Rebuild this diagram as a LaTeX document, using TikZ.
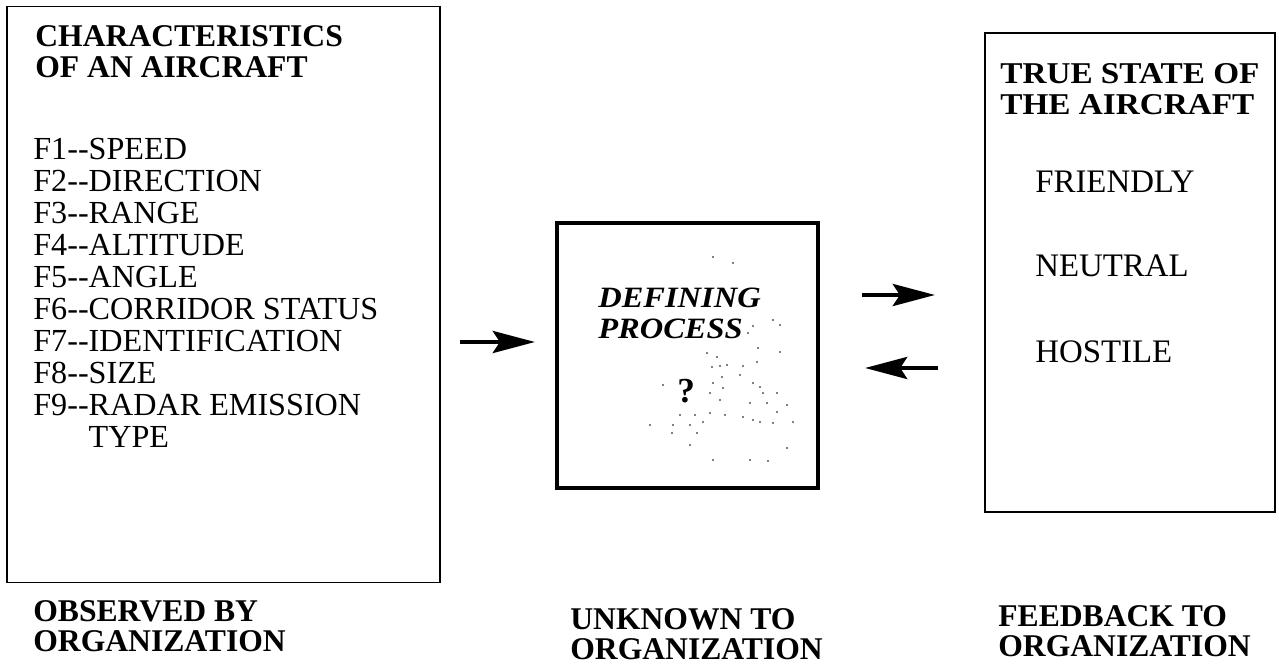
\documentclass[tikz,border=0pt]{standalone}
\usepackage{fontspec}
\setmainfont{Liberation Serif}
\usetikzlibrary{arrows.meta}

\begin{document}
\begin{tikzpicture}[x=0.02cm,y=-0.02cm,
    panel/.style={draw,line width=1.1pt,inner sep=0pt},
    item/.style={anchor=base west,inner sep=0pt,text depth=0pt,font=\fontsize{18.3}{20}\selectfont},
    head/.style={anchor=base west,inner sep=0pt,text depth=0pt,font=\fontsize{18}{20}\selectfont\bfseries},
    tight/.style={head,font=\fontsize{#1}{20}\selectfont\bfseries\addfontfeatures{FakeStretch=1.1}},
    tightit/.style={head,font=\fontsize{#1}{20}\selectfont\bfseries\itshape\addfontfeatures{FakeStretch=1.1}},
    flow/.style={line width=2.6pt,-{Stealth[length=24pt,width=12.5pt,inset=4pt]}}]
    \useasboundingbox (0,0) rectangle (1279,668);
    % the three boxes
    \node[panel,minimum width=433*0.02cm,minimum height=576*0.02cm] (obs) at (223.5,294.5) {};
    \node[panel,line width=2.8pt,minimum width=261*0.02cm,minimum height=265*0.02cm] (proc) at (687.5,355.5) {};
    \node[panel,minimum width=290*0.02cm,minimum height=479*0.02cm] (truth) at (1130,272.5) {};
    % left box
    \node[head] (obs1) at (35,47) {CHARACTERISTICS};
    \node[head] (obs2) at (35,78) {OF AN AIRCRAFT};
    \foreach \txt [count=\i from 0] in {F1-{}-SPEED,F2-{}-DIRECTION,F3-{}-RANGE,F4-{}-ALTITUDE,
        F5-{}-ANGLE,F6-{}-CORRIDOR STATUS,F7-{}-IDENTIFICATION,F8-{}-SIZE,
        F9-{}-RADAR EMISSION,\phantom{F9-{}-}TYPE}
        \node[item] (f\i) at (33,160+32*\i) {\txt};
    % middle box
    \node[tightit=16.8] (def1) at (598,308) {DEFINING};
    \node[tightit=16.8] (def2) at (598,339) {PROCESS};
    \node[head,font=\fontsize{20}{22}\selectfont\bfseries] (qm) at (677,403) {?};
    \foreach \p in {(713,257),(733,263),(753,326),(780,325),(773,320),(748,333),(758,348),
        (780,352),(707,353),(717,357),(757,362),(712,367),(720,366),(727,365),(743,366),
        (722,377),(740,375),(713,383),(753,383),(760,387),(663,385),(723,388),(710,393),
        (763,393),(777,393),(720,400),(750,403),(767,403),(787,405),(777,412),(680,415),
        (695,415),(710,413),(725,415),(743,417),(753,420),(760,422),(773,423),(793,422),
        (650,425),(673,425),(690,425),(703,422),(672,433),(697,433),(690,445),(787,448),
        (713,460),(750,460),(768,461)}
        \fill \p circle[radius=0.55pt];
    % right box
    \node[tight=17.2] (tr1) at (1000,84) {TRUE STATE OF};
    \node[tight=17.2] (tr2) at (1000,115) {THE AIRCRAFT};
    \node[item,font=\fontsize{18.7}{20}\selectfont] (friend) at (1035,193) {FRIENDLY};
    \node[item,font=\fontsize{18.7}{20}\selectfont] (neutral) at (1035,277) {NEUTRAL};
    \node[item,font=\fontsize{18.7}{20}\selectfont] (hostile) at (1035,363) {HOSTILE};
    % arrows
    \coordinate (a1) at (460,342);
    \coordinate (a2) at (535,342);
    \coordinate (b1) at (862,295);
    \coordinate (b2) at (935,295);
    \coordinate (c1) at (938,368);
    \coordinate (c2) at (865,368);
    \draw[flow] (a1) -- (a2);
    \draw[flow] (b1) -- (b2);
    \draw[flow] (c1) -- (c2);
    % captions
    \node[head] (cap1) at (33,622) {OBSERVED BY};
    \node[head] (cap2) at (33,652) {ORGANIZATION};
    \node[head] (cap3) at (570,630) {UNKNOWN TO};
    \node[head] (cap4) at (570,660) {ORGANIZATION};
    \node[head] (cap5) at (998,627) {FEEDBACK TO};
    \node[head] (cap6) at (998,657) {ORGANIZATION};
\end{tikzpicture}
\end{document}
